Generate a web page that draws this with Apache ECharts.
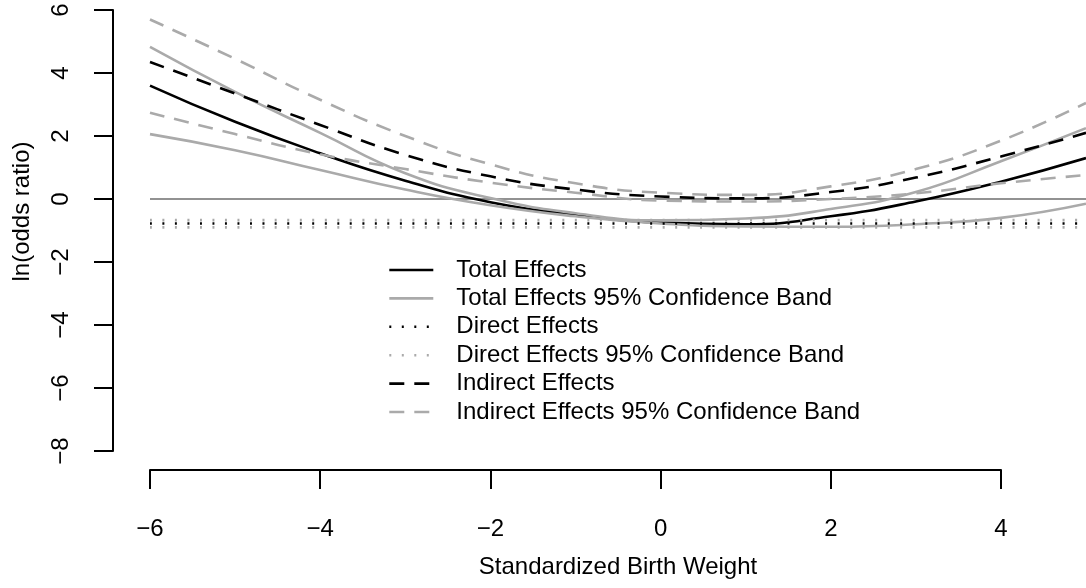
<!DOCTYPE html>
<html>
<head>
<meta charset="utf-8">
<script src="https://cdn.jsdelivr.net/npm/echarts@6/dist/echarts.min.js"></script>
<style>
  html, body { margin: 0; padding: 0; background: #fff; }
  #chart { width: 1086px; height: 588px; }
</style>
</head>
<body>
<div id="chart"></div>
<script>
// standardized birth weight grid
const xs = [-6, -5, -4, -3, -2, -1, 0, 1, 2, 3, 4, 5]

// total effects + band
const totalEffect = [3.6, 2.45, 1.45, 0.58, -0.1, -0.5, -0.75, -0.8, -0.55, -0.08, 0.55, 1.3]
const totalUpper = [4.83, 3.4, 2.1, 0.82, 0.03, -0.45, -0.68, -0.62, -0.32, 0.22, 1.2, 2.25]
const totalLower = [2.06, 1.55, 0.92, 0.3, -0.2, -0.55, -0.78, -0.87, -0.88, -0.8, -0.6, -0.15]

// indirect effects + band
const indirectEffect = [4.35, 3.35, 2.35, 1.4, 0.72, 0.3, 0.08, 0.02, 0.22, 0.68, 1.35, 2.1]
const indirectUpper = [5.7, 4.45, 3.15, 2.0, 1.1, 0.5, 0.2, 0.13, 0.4, 0.95, 1.85, 3.05]
const indirectLower = [2.74, 2.06, 1.42, 0.95, 0.52, 0.2, -0.05, -0.08, 0.0, 0.18, 0.5, 0.76]

// direct effects are flat
const flatX = [-6, 5]
const directEffect = [-0.78, -0.78]
const directUpper = [-0.67, -0.67]
const directLower = [-0.9, -0.9]
const zeroLine = [0, 0]

const xTicks = [-6, -4, -2, 0, 2, 4]
const yTicks = [-8, -6, -4, -2, 0, 2, 4, 6]

const names = [
  'Total Effects',
  'Total Effects 95% Confidence Band',
  'Direct Effects',
  'Direct Effects 95% Confidence Band',
  'Indirect Effects',
  'Indirect Effects 95% Confidence Band'
]

const FONT = "'Liberation Sans', Arial, Helvetica, sans-serif"
const BLACK = '#000000'
const GREY = '#aaaaaa'
const DASH = [15, 10]
const DOT = [2, 10.5]
const LW = 2.6

const pts = (x, y) => x.map((v, i) => [v, y[i]])
const minus = v => String(v).replace('-', '\u2212')

const line = (name, data, color, type) => ({
  name,
  type: 'line',
  data,
  smooth: true,
  symbol: 'none',
  silent: true,
  lineStyle: { color, width: LW, type, cap: 'butt' },
  itemStyle: { color }
})

const series = [
  {
    name: 'zero',
    type: 'line',
    data: pts(flatX, zeroLine),
    symbol: 'none',
    silent: true,
    lineStyle: { color: '#6e6e6e', width: 1.5 }
  },
  line(names[0], pts(xs, totalEffect), BLACK, 'solid'),
  line(names[1], pts(xs, totalUpper), GREY, 'solid'),
  line(names[1], pts(xs, totalLower), GREY, 'solid'),
  line(names[2], pts(flatX, directEffect), BLACK, DOT),
  line(names[3], pts(flatX, directUpper), GREY, DOT),
  line(names[3], pts(flatX, directLower), GREY, DOT),
  line(names[4], pts(xs, indirectEffect), BLACK, DASH),
  line(names[5], pts(xs, indirectUpper), GREY, DASH),
  line(names[5], pts(xs, indirectLower), GREY, DASH)
]

const chart = echarts.init(document.getElementById('chart'), null, { renderer: 'canvas' })

chart.setOption({
  animation: false,
  backgroundColor: '#ffffff',
  textStyle: { fontFamily: FONT },
  grid: [
    { left: 150, right: 0, top: 10, height: 441 },
    { left: 150, width: 851, top: 10, height: 441 }
  ],
  legend: {
    data: names,
    orient: 'vertical',
    left: 388,
    top: 258,
    padding: 0,
    itemWidth: 44,
    itemHeight: 14,
    itemGap: 4.4,
    selectedMode: false,
    itemStyle: { opacity: 0 },
    lineStyle: { width: LW, cap: 'butt' },
    textStyle: {
      fontFamily: FONT,
      fontSize: 24,
      lineHeight: 24,
      color: '#000',
      padding: [0, 0, 0, 18]
    }
  },
  xAxis: [
    {
      gridIndex: 0,
      type: 'value',
      min: -6,
      max: 5,
      axisLine: { show: false },
      axisTick: { show: false },
      axisLabel: { show: false },
      splitLine: { show: false },
      name: 'Standardized Birth Weight',
      nameLocation: 'middle',
      nameGap: 104,
      nameTextStyle: { fontFamily: FONT, fontSize: 24, color: '#000' }
    },
    {
      gridIndex: 1,
      type: 'value',
      position: 'bottom',
      min: xTicks[0],
      max: xTicks[xTicks.length - 1],
      interval: 2,
      offset: 19,
      axisLine: { onZero: false, lineStyle: { color: '#000', width: 2 } },
      axisTick: { length: 19, lineStyle: { color: '#000', width: 2 } },
      axisLabel: { margin: 47, fontSize: 24, color: '#000', fontFamily: FONT, formatter: minus },
      splitLine: { show: false }
    }
  ],
  yAxis: [
    {
      gridIndex: 0,
      type: 'value',
      position: 'left',
      min: yTicks[0],
      max: yTicks[yTicks.length - 1],
      interval: 2,
      offset: 37,
      axisLine: { show: true, onZero: false, lineStyle: { color: '#000', width: 2 } },
      axisTick: { show: true, length: 19, lineStyle: { color: '#000', width: 2 } },
      axisLabel: { rotate: 90, margin: 40, fontSize: 24, color: '#000', fontFamily: FONT, formatter: minus },
      splitLine: { show: false },
      name: 'ln(odds ratio)',
      nameLocation: 'middle',
      nameGap: 79,
      nameRotate: 90,
      // R centres this on the full plot region, a bit higher than the axis middle
      nameTextStyle: { fontFamily: FONT, fontSize: 24, color: '#000', padding: [0, 0, 0, 38] }
    },
    {
      gridIndex: 1,
      type: 'value',
      min: -8,
      max: 6,
      show: false
    }
  ],
  series
})
</script>
</body>
</html>
